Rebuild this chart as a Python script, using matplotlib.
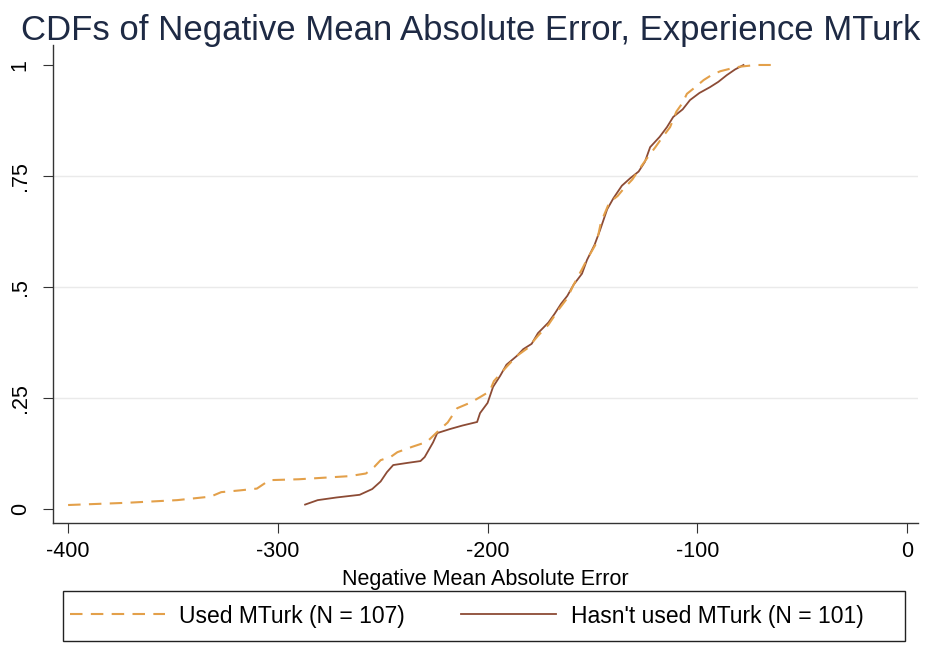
import matplotlib
matplotlib.use("Agg")
import matplotlib.pyplot as plt
from matplotlib.lines import Line2D
from matplotlib.patches import Rectangle

# Used MTurk (N = 107): CDF curve points
used_x = [-400, -372, -348, -332, -327, -318, -310, -304, -290, -266, -258, -254,
          -251, -246, -243, -236, -229, -223, -219, -214.5, -208, -203.6, -199,
          -197, -191, -186, -181, -176, -171, -166, -162, -159, -155, -152.6,
          -148, -146, -142, -138, -135, -131, -127, -124, -120, -117, -113,
          -110, -107, -105, -101, -97, -93, -89, -84, -80, -72, -65]
used_y = [0.009, 0.014, 0.020, 0.028, 0.038, 0.042, 0.046, 0.065, 0.067, 0.074, 0.080, 0.095,
          0.110, 0.118, 0.128, 0.140, 0.151, 0.178, 0.195, 0.227, 0.240, 0.252, 0.265,
          0.288, 0.320, 0.345, 0.362, 0.390, 0.415, 0.450, 0.475, 0.505, 0.540, 0.562,
          0.600, 0.645, 0.690, 0.705, 0.722, 0.742, 0.770, 0.790, 0.815, 0.835, 0.860,
          0.895, 0.915, 0.935, 0.950, 0.966, 0.978, 0.986, 0.992, 0.996, 1.0, 1.0]

# Hasn't used MTurk (N = 101): CDF curve points
not_x = [-287, -281, -272, -261, -255, -251, -248, -245, -238, -232, -230, -226,
         -224, -218, -212, -205, -203.6, -200, -197.4, -194, -191, -186, -183,
         -179, -176, -171, -168, -165, -162, -159, -155, -152.6, -149, -146.4,
         -143, -140, -136, -132, -128, -125, -122.5, -118, -114.5, -111.5, -107,
         -103.5, -99, -94, -90, -86, -82, -78]
not_y = [0.010, 0.020, 0.026, 0.032, 0.045, 0.062, 0.083, 0.099, 0.104, 0.108, 0.117, 0.150,
         0.171, 0.180, 0.188, 0.196, 0.216, 0.239, 0.275, 0.300, 0.325, 0.345, 0.360,
         0.372, 0.396, 0.420, 0.440, 0.462, 0.480, 0.505, 0.530, 0.561, 0.595, 0.628,
         0.675, 0.700, 0.728, 0.745, 0.760, 0.782, 0.815, 0.838, 0.860, 0.883, 0.900,
         0.921, 0.937, 0.950, 0.962, 0.977, 0.990, 1.0]

x_ticks = [-400, -300, -200, -100, 0]
x_ticklabels = ["-400", "-300", "-200", "-100", "0"]
y_ticks = [0, 0.25, 0.5, 0.75, 1]
y_ticklabels = ["0", ".25", ".5", ".75", "1"]
grid_y = [0.25, 0.5, 0.75]

title = "CDFs of Negative Mean Absolute Error, Experience MTurk"
xlabel = "Negative Mean Absolute Error"
label_used = "Used MTurk (N = 107)"
label_not = "Hasn't used MTurk (N = 101)"

plt.rcParams['font.family'] = ['Liberation Sans', 'DejaVu Sans']

c_used = "#E3A04A"
c_not = "#8C4B35"

W, H = 942, 648
fig = plt.figure(figsize=(W / 100, H / 100), dpi=100)
ax = fig.add_axes([53/W, (H-523)/H, 865/W, (523-45)/H])

for g in grid_y:
    ax.axhline(g, color="#EAEAEA", lw=1.0, zorder=0)

ax.plot(used_x, used_y, color=c_used, lw=1.5, ls=(0, (6, 4)), zorder=3)
ax.plot(not_x, not_y, color=c_not, lw=1.3, ls="-", zorder=2)

ax.set_xlim(-407.2, 5.2)
ax.set_ylim(-0.0315, 1.045)
ax.set_xticks(x_ticks)
ax.set_xticklabels(x_ticklabels, fontsize=15.5)
ax.set_yticks(y_ticks)
ax.set_yticklabels(y_ticklabels, fontsize=15.5, rotation=90, va="center")
ax.tick_params(axis="x", direction="out", length=7, width=0.8, color="#333333", pad=6)
ax.tick_params(axis="y", direction="out", length=7, width=0.8, color="#333333", pad=9)
for s in ["top", "right"]:
    ax.spines[s].set_visible(False)
for s in ["left", "bottom"]:
    ax.spines[s].set_color("#333333")
    ax.spines[s].set_linewidth(1.0)

ax.set_xlabel(xlabel, fontsize=15.5, labelpad=5)
fig.text(0.5, 0.979, title, ha="center", va="top", fontsize=25,
         color="#1E2A44")

# legend box
fig.patches.append(Rectangle((63/W, 7/H), 842/W, 50/H, transform=fig.transFigure,
                             fill=False, edgecolor="#222222", lw=1.0))
handles = [Line2D([], [], color=c_used, lw=1.5, ls=(0, (6, 4))),
           Line2D([], [], color=c_not, lw=1.3)]
leg = fig.legend(handles, [label_used, label_not], ncol=2, fontsize=16.5,
                 loc="center left", bbox_to_anchor=(70/W, 32/H),
                 handlelength=4.15, handletextpad=0.62, columnspacing=2.45,
                 frameon=False, borderaxespad=0.0, borderpad=0.0)

fig.savefig("out.png", dpi=100)
